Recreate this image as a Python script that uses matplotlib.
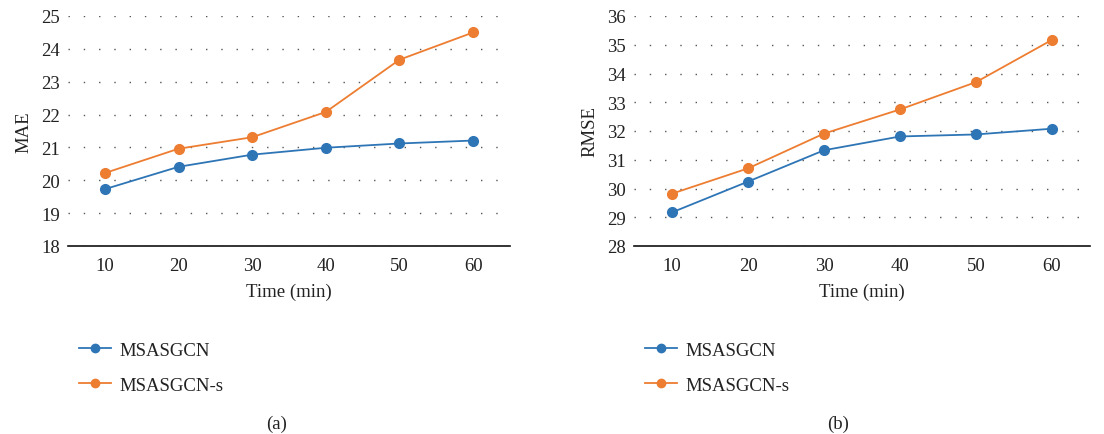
import numpy as np
import matplotlib.pyplot as plt
from matplotlib.lines import Line2D

plt.rcParams['font.family'] = ['Liberation Serif', 'DejaVu Serif']

times = ['10', '20', '30', '40', '50', '60']
mae_msasgcn = [19.73, 20.41, 20.78, 20.99, 21.12, 21.21]
mae_msasgcn_s = [20.22, 20.96, 21.31, 22.08, 23.67, 24.50]
rmse_msasgcn = [29.17, 30.24, 31.33, 31.81, 31.88, 32.08]
rmse_msasgcn_s = [29.82, 30.70, 31.91, 32.75, 33.70, 35.17]
names = ['MSASGCN', 'MSASGCN-s']

blue = '#2E75B6'
orange = '#ED7D31'

fig = plt.figure(figsize=(11.04, 4.35), dpi=100)
W, H = 1104, 435
ax1 = fig.add_axes([68 / W, 1 - 247 / H, (510 - 68) / W, (247 - 17) / H])
ax2 = fig.add_axes([634 / W, 1 - 247 / H, (1090 - 634) / W, (247 - 17) / H])

panels = [
    (ax1, mae_msasgcn, mae_msasgcn_s, 'MAE', (18, 25), '(a)', 277),
    (ax2, rmse_msasgcn, rmse_msasgcn_s, 'RMSE', (28, 36), '(b)', 838),
]
x = np.arange(len(times))
for ax, s1, s2, ylab, ylim, tag, tagx in panels:
    ax.plot(x, s1, color=blue, marker='o', markersize=7, linewidth=1.3, zorder=4)
    ax.plot(x, s2, color=orange, marker='o', markersize=7, linewidth=1.3, zorder=4)
    ax.set_xlim(-0.5, len(times) - 0.5)
    ax.set_ylim(*ylim)
    ax.set_yticks(np.arange(ylim[0], ylim[1] + 1, 1))
    ax.set_xticks(x)
    ax.set_xticklabels(times)
    ax.tick_params(length=0, labelsize=13.5, colors='#222222', pad=8)
    ax.tick_params(axis='y', pad=6)
    for sp in ['top', 'right', 'left']:
        ax.spines[sp].set_visible(False)
    ax.spines['bottom'].set_color('#111111')
    ax.spines['bottom'].set_linewidth(1.2)
    ax.yaxis.grid(True, color='#555555', linestyle=(0, (1, 10)), linewidth=1.0)
    ax.set_axisbelow(True)
    ax.set_ylabel(ylab, fontsize=13.5, color='#222222', labelpad=6)
    ax.set_xlabel('Time (min)', fontsize=13.5, color='#222222', labelpad=6)

    handles = [Line2D([], [], color=blue, marker='o', markersize=6, linewidth=1.3),
               Line2D([], [], color=orange, marker='o', markersize=6, linewidth=1.3)]
    bb = ax.get_position()
    leg = fig.legend(handles, names, loc='upper left',
                     bbox_to_anchor=(bb.x0 - 6 / W, 1 - 326 / H),
                     frameon=False, fontsize=13.5, handlelength=1.7,
                     labelspacing=0.95, handletextpad=0.45, labelcolor='#222222')
    fig.text(tagx / W, 1 - 424 / H, tag, ha='center', va='center', fontsize=13.5, color='#222222')

fig.savefig('out.png', dpi=100)
